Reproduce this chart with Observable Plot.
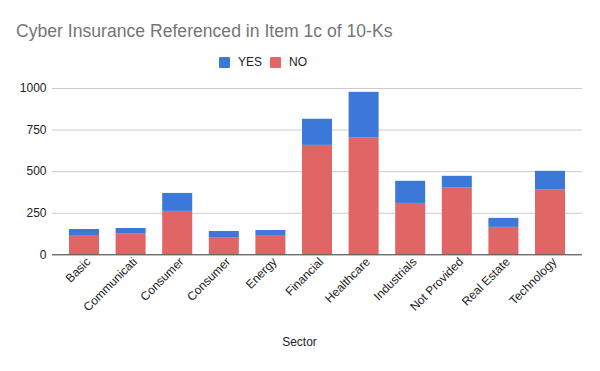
<!DOCTYPE html>
<html>
<head>
<meta charset="utf-8">
<script src="https://cdn.jsdelivr.net/npm/d3@7"></script>
<script src="https://cdn.jsdelivr.net/npm/@observablehq/plot@0.6"></script>
<style>
  body { margin: 0; background: #fff; font-family: "Liberation Sans", Arial, sans-serif; }
  #wrap { width: 600px; height: 371px; position: relative; overflow: hidden; }
  #title { position: absolute; left: 16px; top: 21px; font-size: 17.6px; color: #757575; white-space: nowrap; }
  #legend { position: absolute; top: 55px; left: 0; width: 600px; height: 14px; font-size: 12px; color: #222; }
  .li { position: absolute; top: 0; display: flex; align-items: center; }
  .sw { width: 11px; height: 11px; border-radius: 1px; margin-right: 8px; }
  #chart { position: absolute; top: 75px; left: 0; }
</style>
</head>
<body>
<div id="wrap">
  <div id="title">Cyber Insurance Referenced in Item 1c of 10-Ks</div>
  <div id="legend"></div>
  <div id="chart"></div>
</div>
<script>
const sectors = ["Basic", "Communicati", "Consumer", "Consumer", "Energy", "Financial", "Healthcare", "Industrials", "Not Provided", "Real Estate", "Technology"];
const noValues  = [116, 124, 261, 100, 116, 658, 702, 309, 401, 165, 389];
const yesValues = [36, 34, 108, 40, 30, 157, 275, 133, 71, 54, 113];
const seriesNames = ["YES", "NO"];
const seriesColors = ["#3c78d8", "#e06666"];
const yTicks = [0, 250, 500, 750, 1000];

const rows = [];
sectors.forEach((s, i) => {
  rows.push({i, series: "NO", value: noValues[i]});
  rows.push({i, series: "YES", value: yesValues[i]});
});

// legend
const legend = document.getElementById("legend");
const legendX = [219, 270];
seriesNames.forEach((name, k) => {
  const d = document.createElement("div");
  d.className = "li";
  d.style.left = legendX[k] + "px";
  d.innerHTML = `<span class="sw" style="background:${seriesColors[k]}"></span><span>${name}</span>`;
  legend.appendChild(d);
});

const chart = Plot.plot({
  width: 600,
  height: 296,
  marginLeft: 52,
  marginRight: 18,
  marginTop: 13,
  marginBottom: 116.7,
  style: {fontFamily: "'Liberation Sans', Arial, sans-serif", fontSize: "12px", color: "#222", background: "#fff"},
  x: {domain: d3.range(sectors.length), paddingInner: 0.356, paddingOuter: 0.365, round: false, label: null},
  y: {domain: [0, 1000], label: null},
  color: {domain: seriesNames, range: seriesColors},
  marks: [
    Plot.ruleY(yTicks.filter(t => t > 0), {stroke: "#cccccc", strokeWidth: 1}),
    Plot.barY(rows, {x: "i", y: "value", fill: "series", order: null}),
    Plot.ruleY([0], {stroke: "#333333", strokeWidth: 1}),
    Plot.axisY({ticks: yTicks, tickFormat: d => String(d), tickSize: 0, tickPadding: 6, label: null, fill: "#222", fontSize: 12}),
    Plot.axisX({tickSize: 0, tickPadding: 5, tickRotate: -45, dx: 4, tickFormat: i => sectors[i], label: null, fill: "#222", fontSize: 12}),
    Plot.text(["Sector"], {frameAnchor: "bottom", dy: 91, dx: -18, fill: "#222", fontSize: 12})
  ]
});
document.getElementById("chart").appendChild(chart);
</script>
</body>
</html>
